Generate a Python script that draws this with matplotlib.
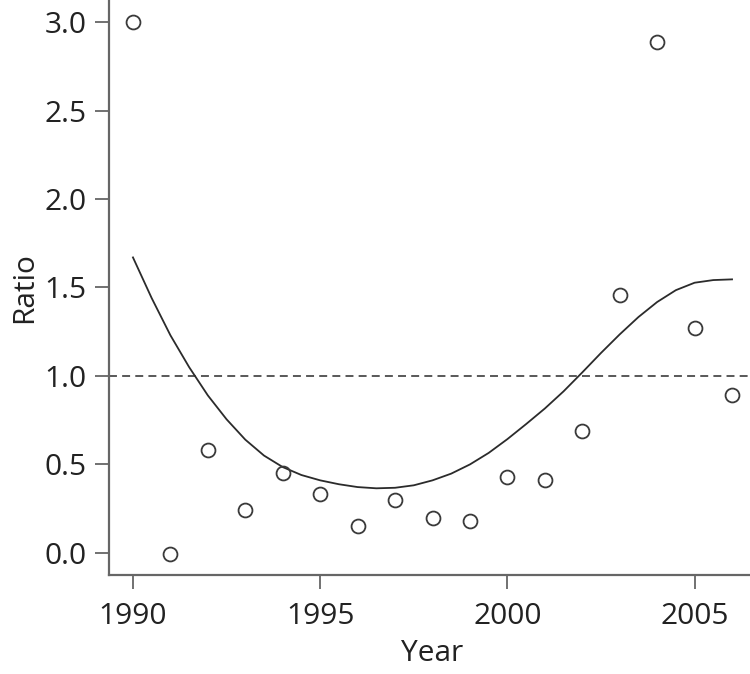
import matplotlib
matplotlib.use("Agg")
import matplotlib.pyplot as plt

# Observed data points
years = [1990, 1991, 1992, 1993, 1994, 1995, 1996, 1997, 1998, 1999,
         2000, 2001, 2002, 2003, 2004, 2005, 2006]
ratio = [3.00, -0.005, 0.58, 0.24, 0.45, 0.33, 0.15, 0.30, 0.20, 0.18,
         0.43, 0.41, 0.69, 1.46, 2.89, 1.27, 0.89]

# Fitted smooth curve
fit_years = [1990.0, 1990.5, 1991.0, 1991.5, 1992.0, 1992.5, 1993.0, 1993.5,
             1994.0, 1994.5, 1995.0, 1995.5, 1996.0, 1996.5, 1997.0, 1997.5,
             1998.0, 1998.5, 1999.0, 1999.5, 2000.0, 2000.5, 2001.0, 2001.5,
             2002.0, 2002.5, 2003.0, 2003.5, 2004.0, 2004.5, 2005.0, 2005.5,
             2006.0]
fit_ratio = [1.67, 1.44, 1.23, 1.05, 0.89, 0.755, 0.64, 0.55,
             0.485, 0.44, 0.41, 0.388, 0.372, 0.365, 0.368, 0.382,
             0.41, 0.448, 0.50, 0.565, 0.643, 0.728, 0.816, 0.913,
             1.02, 1.13, 1.235, 1.333, 1.418, 1.485, 1.527, 1.542,
             1.546]

reference_level = 1.0
x_ticks = [1990, 1995, 2000, 2005]
y_ticks = [0.0, 0.5, 1.0, 1.5, 2.0, 2.5, 3.0]

plt.rcParams['font.family'] = ['Open Sans', 'DejaVu Sans']

W, H = 750, 674
fig = plt.figure(figsize=(W / 100, H / 100), dpi=100)
ax = fig.add_axes([109 / W, 1 - 575 / H, (756 - 109) / W, 575 / H])

ink = '#2b2b2b'
ax.plot(fit_years, fit_ratio, color=ink, lw=1.3, zorder=3,
        solid_joinstyle='round')
ax.axhline(reference_level, color=ink, lw=1.1, ls=(0, (5.2, 3.4)), zorder=2)
ax.plot(years, ratio, ls='none', marker='o', ms=10, mfc='none',
        mec='#3a3a3a', mew=1.3, zorder=4)

ax.set_xlim(1989.36, 2006.64)
ax.set_ylim(-0.125, 3.125)
ax.set_xticks(x_ticks)
ax.set_yticks(y_ticks)
ax.set_yticklabels([f"{v:.1f}" for v in y_ticks])

for s in ['top', 'right']:
    ax.spines[s].set_visible(False)
for s in ['left', 'bottom']:
    ax.spines[s].set_color('#666666')
    ax.spines[s].set_linewidth(1.6)

ax.tick_params(axis='both', colors='#666666', labelcolor='#222222',
               length=10, width=1.3, labelsize=21.5)
ax.tick_params(axis='x', pad=9.5)
ax.tick_params(axis='y', pad=6)
ax.set_xlabel('Year', fontsize=21.5, color='#222222', labelpad=6)
ax.set_ylabel('Ratio', fontsize=21.5, color='#222222', labelpad=4)

fig.savefig('out.png', dpi=100)
